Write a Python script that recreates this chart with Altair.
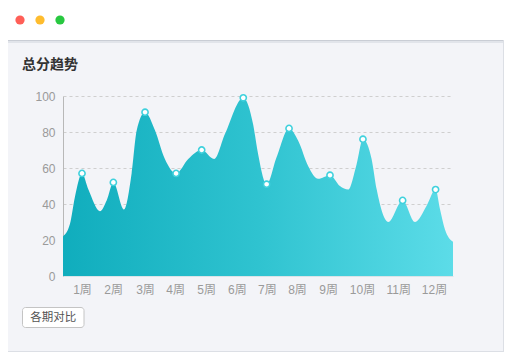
import json
import altair as alt
import pandas as pd

# ---- data ----
curve_week = [0.406, 0.625, 0.78, 1.0, 1.2, 1.56, 1.77, 1.98, 2.31, 2.55, 2.71, 2.97,
              3.28, 3.59, 3.94, 4.32, 4.74, 5.13, 5.47, 6.04, 6.35, 6.5, 6.77, 7.08,
              7.47, 7.76, 8.07, 8.38, 8.75, 9.06, 9.32, 9.58, 9.78, 10.05, 10.21, 10.57,
              11.02, 11.41, 11.77, 12.05, 12.19, 12.34, 12.594]
curve_score = [22, 29, 44, 57, 48, 36, 42, 52, 37, 57, 81, 91,
               81, 65, 57, 65, 70, 65, 79, 99, 84, 68, 51, 66,
               82, 75, 61, 54, 56, 50, 48, 62, 76, 65, 48, 30,
               42, 30, 39, 48, 37, 26, 19]

point_week = [1.0, 1.98, 2.97, 3.94, 4.74, 6.04, 6.77, 7.47, 8.75, 9.78, 11.02, 12.05]
point_score = [57, 52, 91, 57, 70, 99, 51, 82, 56, 76, 42, 48]

label_pos = [1.0, 1.97, 2.97, 3.91, 4.88, 5.84, 6.78, 7.72, 8.69, 9.75, 10.88, 12.0]
label_text = ["1周", "2周", "3周", "4周", "5周", "6周", "7周", "8周", "9周", "10周", "11周", "12周"]
y_ticks = [0, 20, 40, 60, 80, 100]

title_text = "总分趋势"
button_text = "各期对比"
dot_colors = ["#ff5f57", "#febc2e", "#28c840"]

FONT = "Liberation Sans, Noto Sans CJK SC, sans-serif"
CJK = "Noto Sans CJK SC, sans-serif"

curve_df = pd.DataFrame({"week": curve_week, "score": curve_score})
point_df = pd.DataFrame({"week": point_week, "score": point_score})
one = pd.DataFrame({"a": [0]})

label_expr = "{}[indexof({}, datum.value)]".format(
    json.dumps(label_text, ensure_ascii=False), json.dumps(label_pos))

x_enc = alt.X("week:Q",
              scale=alt.Scale(domain=[curve_week[0], curve_week[-1]], nice=False, zero=False),
              axis=alt.Axis(values=label_pos, tickCount=len(label_pos), labelExpr=label_expr,
                            grid=False, ticks=False,
                            domain=True, domainColor="#d9e4e8", labelColor="#9a9a9a",
                            labelFontSize=12, labelFont=FONT, labelPadding=8,
                            labelFlush=False, labelOverlap=False, title=None))
y_enc = alt.Y("score:Q",
              scale=alt.Scale(domain=[0, 100], nice=False),
              axis=alt.Axis(values=y_ticks, tickCount=len(y_ticks), grid=True, gridDash=[3, 3],
                            gridColor="#cfcfcf", ticks=False, domain=True, domainColor="#b8b8b8",
                            labelColor="#9a9a9a", labelFontSize=12, labelFont=FONT,
                            labelOverlap=False, labelPadding=8, title=None))

gradient = alt.Gradient(gradient="linear",
                        stops=[alt.GradientStop(color="#10adbd", offset=0),
                               alt.GradientStop(color="#2fc3d0", offset=0.5),
                               alt.GradientStop(color="#5cdce8", offset=1)],
                        x1=0, x2=1, y1=0, y2=0)

area = alt.Chart(curve_df).mark_area(interpolate="monotone", color=gradient, opacity=1).encode(
    x=x_enc, y=y_enc)

points = alt.Chart(point_df).mark_point(shape="circle", fill="white", fillOpacity=1,
                                        stroke="#3fd1dd", strokeWidth=1.6, size=38,
                                        opacity=1).encode(x="week:Q", y="score:Q")

# ---- window chrome ----
header = alt.Chart(one).mark_rect(color="white").encode(
    x=alt.value(-60), x2=alt.value(450), y=alt.value(-92), y2=alt.value(-56))
shadow1 = alt.Chart(one).mark_rule(color="#c9cdd5", strokeWidth=1).encode(
    x=alt.value(-55), x2=alt.value(441), y=alt.value(-55.5))
shadow2 = alt.Chart(one).mark_rule(color="#e1e4ea", strokeWidth=2).encode(
    x=alt.value(-55), x2=alt.value(441), y=alt.value(-54))
right_border = alt.Chart(one).mark_rule(color="#dcdfe5", strokeWidth=1).encode(
    x=alt.value(440.5), y=alt.value(-56), y2=alt.value(256))
bottom_border = alt.Chart(one).mark_rule(color="#dcdfe5", strokeWidth=1).encode(
    x=alt.value(-55), x2=alt.value(441), y=alt.value(255.5))

dots = [alt.Chart(one).mark_point(shape="circle", filled=True, color=c, size=85, opacity=1).encode(
    x=alt.value(-43 + 20 * i), y=alt.value(-76)) for i, c in enumerate(dot_colors)]

title = alt.Chart(pd.DataFrame({"t": [title_text]})).mark_text(
    align="left", baseline="middle", font=CJK, fontSize=14, fontWeight="bold",
    color="#333333").encode(text="t:N", x=alt.value(-41), y=alt.value(-31))

button = alt.Chart(one).mark_rect(fill="white", stroke="#c4c4c4", strokeWidth=1,
                                  cornerRadius=3).encode(
    x=alt.value(-40.5), x2=alt.value(21), y=alt.value(211.5), y2=alt.value(231.5))
button_label = alt.Chart(pd.DataFrame({"t": [button_text]})).mark_text(
    align="center", baseline="middle", font=CJK, fontSize=11.5, color="#555555").encode(
    text="t:N", x=alt.value(-9.7), y=alt.value(221.5))

chart = alt.layer(header, shadow1, shadow2, right_border, bottom_border, *dots,
                  title, button, button_label, area, points).properties(
    width=390, height=180,
    autosize=alt.AutoSizeParams(type="none"),
    padding={"left": 55, "top": 88, "right": 51, "bottom": 76},
    background="#f3f4f8",
).configure_view(strokeWidth=0)

chart.save("out.html", embed_options={"renderer": "svg", "actions": False})
